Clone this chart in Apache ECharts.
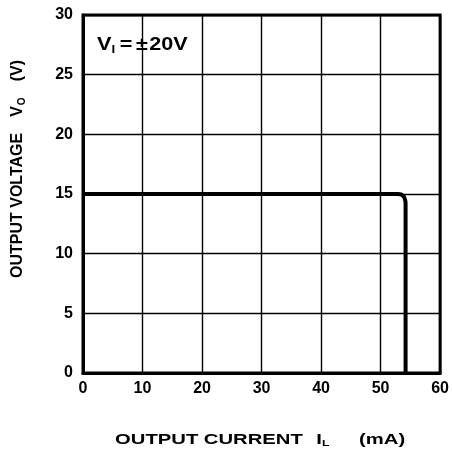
<!DOCTYPE html>
<html><head><meta charset="utf-8">
<script src="https://cdn.jsdelivr.net/npm/echarts@6/dist/echarts.min.js"></script>
<style>html,body{margin:0;padding:0;background:#fff}#c{width:452px;height:450px}</style>
</head><body><div id="c"></div>
<script>
const xTicks = [0, 10, 20, 30, 40, 50, 60];
const yTicks = [0, 5, 10, 15, 20, 25, 30];
const currentMA = [0, 52.9, 53.5, 53.9, 54.1, 54.2, 54.2];
const voltageV = [15, 15, 14.95, 14.8, 14.55, 14.3, 0];

const chart = echarts.init(document.getElementById('c'));
const font = '"Liberation Sans", Arial, sans-serif';
const B = (size, extra) => Object.assign({ fontSize: size, fontWeight: 'bold', fill: '#000', fontFamily: font }, extra || {});
chart.setOption({
  animation: false,
  backgroundColor: '#fff',
  grid: { left: 83, right: 10, top: 15, bottom: 77, show: true, borderColor: '#000', borderWidth: 3 },
  xAxis: {
    type: 'value', min: xTicks[0], max: xTicks[xTicks.length-1], interval: 10,
    axisLine: { show: true, lineStyle: { color: '#000', width: 3 } },
    axisTick: { show: false },
    splitLine: { show: true, lineStyle: { color: '#000', width: 1.4 } },
    axisLabel: { color: '#000', fontFamily: font, fontWeight: 'bold', fontSize: 16, margin: 8 }
  },
  yAxis: {
    type: 'value', min: yTicks[0], max: yTicks[yTicks.length-1], interval: 5,
    axisLine: { show: true, lineStyle: { color: '#000', width: 3 } },
    axisTick: { show: false },
    splitLine: { show: true, lineStyle: { color: '#000', width: 1.4 } },
    axisLabel: { color: '#000', fontFamily: font, fontWeight: 'bold', fontSize: 16, margin: 10 }
  },
  series: [{
    type: 'line', symbol: 'none',
    data: currentMA.map((x, i) => [x, voltageV[i]]),
    lineStyle: { color: '#000', width: 4, join: 'round' }
  }],
  graphic: [
    {
      type: 'text', x: 97, y: 45, scaleX: 1.2,
      style: {
        text: '{v|V}{s|I}{e|=}{p|±}{v|20V}', verticalAlign: 'middle', fontFamily: font,
        rich: {
          v: B(18),
          s: B(11, { padding: [9, 2, 0, 0] }),
          e: B(18, { padding: [0, 3, 0, 2] }),
          p: B(18, { padding: [0, 1, 0, 0] })
        }
      }
    },
    {
      type: 'text', x: 115, y: 440, scaleX: 1.35,
      style: {
        text: '{v|OUTPUT CURRENT}{i|I}{s|L}{m|(mA)}', verticalAlign: 'middle', fontFamily: font,
        rich: {
          v: B(15),
          i: B(15, { padding: [0, 0, 0, 10] }),
          s: B(9, { padding: [8, 0, 0, 0] }),
          m: B(15, { padding: [0, 0, 0, 22] })
        }
      }
    },
    {
      type: 'text', x: 18, y: 278, rotation: Math.PI / 2,
      style: {
        text: '{v|OUTPUT VOLTAGE}{i|V}{s|O}{m|(V)}', verticalAlign: 'middle', fontFamily: font,
        rich: {
          v: B(16),
          i: B(16, { padding: [0, 0, 0, 16] }),
          s: B(10, { padding: [9, 0, 0, 1] }),
          m: B(16, { padding: [0, 0, 0, 16] })
        }
      }
    }
  ]
});
</script></body></html>
